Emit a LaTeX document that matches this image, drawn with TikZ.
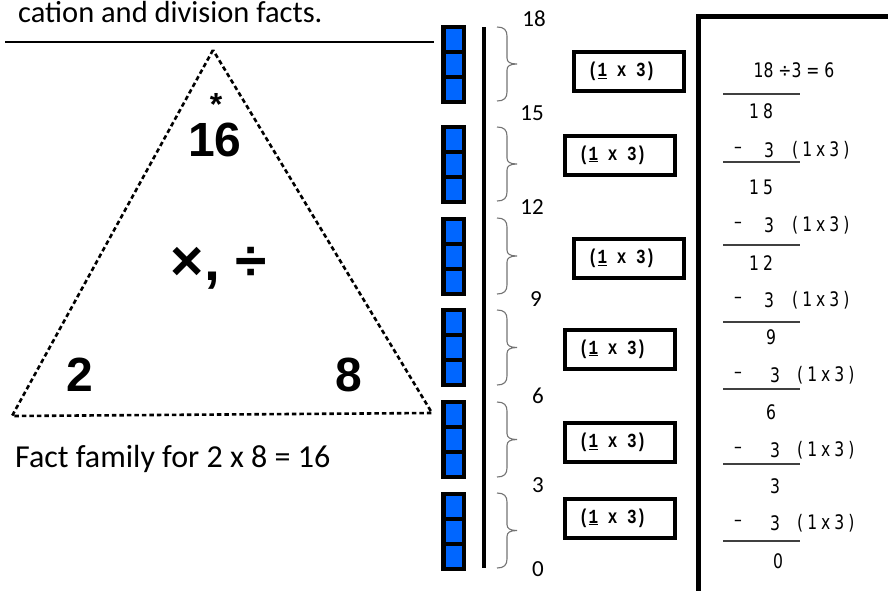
\documentclass[tikz,border=0pt]{standalone}
\usepackage{fontspec}
\setmainfont{Carlito}
\newfontfamily\arialfont{Liberation Sans}
\newfontfamily\courfont[FakeStretch=0.8]{Liberation Mono}
\newfontfamily\divfont[FakeStretch=0.78]{DejaVu Sans}
\newfontfamily\divfontsp[FakeStretch=0.78,LetterSpace=20]{DejaVu Sans}
\definecolor{blockblue}{RGB}{0,102,255}
\definecolor{bracegray}{RGB}{115,115,115}
\newcommand{\gbrace}[2]{%
  \pgfmathsetmacro\brmid{(#1+#2)/2}%
  \draw[bracestyle] (497,#1) .. controls (504,#1) and (507,#1+3) .. (507,#1+9)
    -- (507,\brmid-6) .. controls (507,\brmid-2) and (510,\brmid) .. (517,\brmid)
    .. controls (510,\brmid) and (507,\brmid+2) .. (507,\brmid+6)
    -- (507,#2-9) .. controls (507,#2-3) and (504,#2) .. (497,#2);}
\newcommand{\blockgroup}[1]{%
  \fill[black] (441,#1) rectangle (466,#1+79);
  \foreach \k in {0,1,2} {\fill[blockblue] (446,#1+4+25*\k) rectangle (462,#1+25+25*\k);}}
\newcommand{\onebythree}{\makebox[82pt][l]{(\underline{1} x 3)}}
\begin{document}
\begin{tikzpicture}[x=1pt,y=-1pt,
  bigtext/.style={inner sep=0pt, anchor=base west, font=\fontsize{32}{32}\selectfont},
  trinum/.style={inner sep=0pt, font=\arialfont\bfseries\fontsize{48}{48}\selectfont},
  axisnum/.style={inner sep=0pt, font=\fontsize{23}{23}\selectfont},
  bracestyle/.style={draw=bracegray, line width=1.1pt},
  mbox/.style={draw, line width=4pt, anchor=west, minimum height=39pt, inner xsep=14pt,
    font=\courfont\bfseries\fontsize{20}{20}\selectfont},
  divtext/.style={inner sep=0pt, font=\divfont\fontsize{20}{20}\selectfont},
  divsp/.style={inner sep=0pt, font=\divfontsp\fontsize{20}{20}\selectfont},
  divline/.style={draw=black!75, line width=1.3pt},
  triedge/.style={line width=2.6pt, dash pattern=on 4.5pt off 3pt}]
\useasboundingbox (0,0) rectangle (888,590);

% header text and rule
\node[bigtext, font=\fontsize{30.5}{30.5}\selectfont] (head) at (18,22) {cation and division facts.};
\draw[line width=1.2pt] (5,42) -- (434,42);

% fact triangle
\coordinate (tA) at (213,50);
\coordinate (tB) at (12,416);
\coordinate (tC) at (432,413);
\draw[triedge] (tA) -- (tB) -- (tC) -- cycle;
\node[inner sep=0pt, font=\arialfont\bfseries\fontsize{32}{32}\selectfont] (star) at (216,104) {*};
\node[trinum] (n16) at (215,140) {16};
\node[trinum, font=\arialfont\bfseries\fontsize{57}{57}\selectfont] (ops) at (219,268) {×, ÷};
\node[trinum] (n2) at (80,375) {2};
\node[trinum] (n8) at (349,375) {8};
\node[bigtext] (fact) at (15,467) {Fact family for 2 x 8 = 16};

% blue blocks
\blockgroup{25}
\blockgroup{125}
\blockgroup{217}
\blockgroup{308}
\blockgroup{400}
\blockgroup{492}

% number line
\draw[line width=4.5pt] (484,27) -- (484,568);

% braces
\gbrace{27}{101}
\gbrace{127}{201}
\gbrace{218}{294}
\gbrace{310}{385}
\gbrace{402}{477}
\gbrace{493}{568}

% numbers
\node[axisnum] (a18) at (534,19) {18};
\node[axisnum] (a15) at (532,113) {15};
\node[axisnum] (a12) at (532,207) {12};
\node[axisnum] (a9) at (536,299) {9};
\node[axisnum] (a6) at (538,396) {6};
\node[axisnum] (a3) at (538,485) {3};
\node[axisnum] (a0) at (538,569) {0};

% (1 x 3) boxes
\node[mbox] (b1) at (572,71.5) {\onebythree};
\node[mbox] (b2) at (563,155) {\onebythree};
\node[mbox] (b3) at (572,258.5) {\onebythree};
\node[mbox] (b4) at (563,349) {\onebythree};
\node[mbox] (b5) at (563,442.5) {\onebythree};
\node[mbox] (b6) at (563,518) {\onebythree};

% division box
\draw[line width=5pt] (698.5,16.5) rectangle (905,605);
\node[divtext] (title) at (794,70) {18 ÷3 = 6};
\draw[divline] (723,94) -- (800,94);
\node[divsp] (d18) at (761,111) {18};
\node[divtext] (m1) at (738,150) {–};
\node[divtext] (s1) at (769,150) {3};
\node[divsp, anchor=west] (p1) at (792,150) {(1x3)};
\draw[divline] (723,162) -- (800,162);
\node[divsp] (d15) at (761,187) {15};
\node[divtext] (m2) at (738,225) {–};
\node[divtext] (s2) at (769,225) {3};
\node[divsp, anchor=west] (p2) at (792,225) {(1x3)};
\draw[divline] (723,245) -- (800,245);
\node[divsp] (d12) at (761,263) {12};
\node[divtext] (m3) at (738,300) {–};
\node[divtext] (s3) at (769,300) {3};
\node[divsp, anchor=west] (p3) at (792,300) {(1x3)};
\draw[divline] (723,322) -- (800,322);
\node[divtext] (d9) at (771,337) {9};
\node[divtext] (m4) at (738,375) {–};
\node[divtext] (s4) at (775,375) {3};
\node[divsp, anchor=west] (p4) at (797,375) {(1x3)};
\draw[divline] (723,389) -- (800,389);
\node[divtext] (d6) at (771,412) {6};
\node[divtext] (m5) at (738,450) {–};
\node[divtext] (s5) at (775,450) {3};
\node[divsp, anchor=west] (p5) at (797,450) {(1x3)};
\draw[divline] (723,464) -- (800,464);
\node[divtext] (d3) at (775,486) {3};
\node[divtext] (m6) at (738,523) {–};
\node[divtext] (s6) at (775,523) {3};
\node[divsp, anchor=west] (p6) at (797,523) {(1x3)};
\draw[divline] (723,541) -- (800,541);
\node[divtext] (d0) at (778,561) {0};
\end{tikzpicture}
\end{document}
